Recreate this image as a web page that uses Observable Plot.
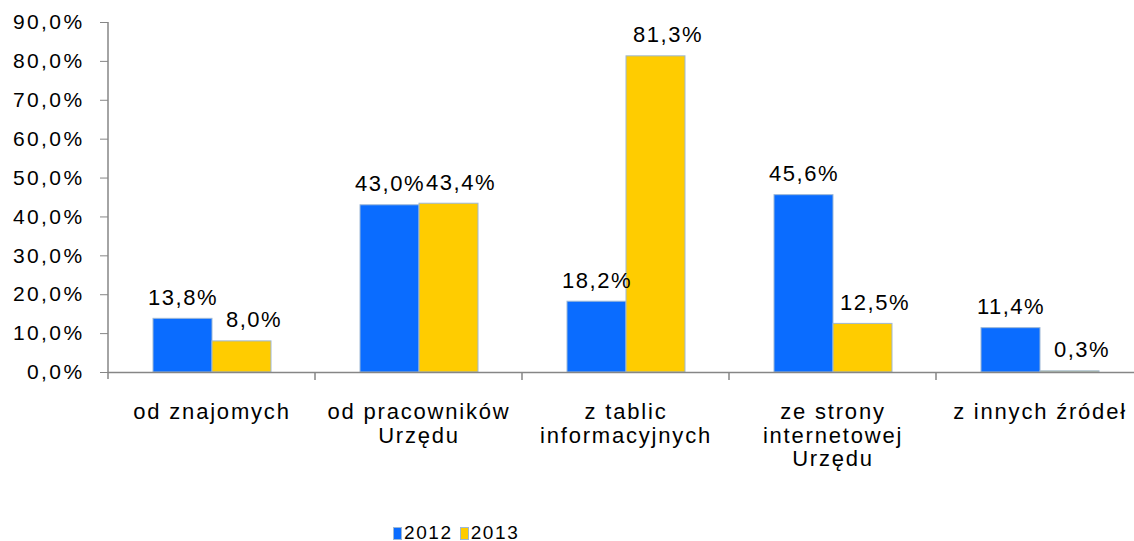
<!DOCTYPE html>
<html>
<head>
<meta charset="utf-8">
<script src="https://cdn.jsdelivr.net/npm/d3@7"></script>
<script src="https://cdn.jsdelivr.net/npm/@observablehq/plot@0.6"></script>
<style>
  body { margin: 0; background: #fff; font-family: "Liberation Sans", Arial, sans-serif; overflow: hidden; }
  #legend { display: flex; align-items: center; height: 22px; line-height: 22px; margin-top: 6px; padding-left: 393px; font-size: 19px; letter-spacing: 1.6px; color: #000; }
  .sw { display: inline-block; width: 9px; height: 13px; margin-right: 2px; box-sizing: border-box; }
  .item { display: flex; align-items: center; margin-right: 7px; }
  #chart svg text { letter-spacing: 1.8px; }
  #chart svg .ytick text { letter-spacing: 2.4px; }
  #chart svg .vlabel text { letter-spacing: 1.5px; }
</style>
</head>
<body>
<div id="chart"></div>
<div id="legend"></div>
<script>
const categories = ["od znajomych", "od pracowników\nUrzędu", "z tablic\ninformacyjnych", "ze strony\ninternetowej\nUrzędu", "z innych źródeł"];
const series = ["2012", "2013"];
const values2012 = [13.8, 43.0, 18.2, 45.6, 11.4];
const values2013 = [8.0, 43.4, 81.3, 12.5, 0.3];
const yTicks = [0, 10, 20, 30, 40, 50, 60, 70, 80, 90];
const colors = ["#0a6cff", "#ffcc00"];

const data = [];
categories.forEach((c, i) => {
  data.push({category: c, year: "2012", value: values2012[i]});
  data.push({category: c, year: "2013", value: values2013[i]});
});
const fmt = v => v.toFixed(1).replace(".", ",") + "%";
const axisColor = "#868686";

function axesLines(index, scales, values, dimensions) {
  const fx = scales.fx, y = scales.y;
  const g = d3.create("svg:g").attr("stroke", axisColor).attr("stroke-width", 1.5);
  const y0 = y(0);
  g.append("line").attr("x1", dimensions.marginLeft).attr("x2", dimensions.marginLeft)
    .attr("y1", y(90)).attr("y2", y0 + 7);
  categories.forEach((c, i) => {
    if (i < categories.length - 1) {
      const xb = fx(c) + fx.bandwidth();
      g.append("line").attr("x1", xb).attr("x2", xb).attr("y1", y0).attr("y2", y0 + 8);
    }
  });
  return g.node();
}

const plot = Plot.plot({
  width: 1134,
  height: 516,
  marginLeft: 108,
  marginRight: -9,
  marginTop: 22,
  marginBottom: 144,
  style: {fontFamily: "Liberation Sans, Arial, sans-serif", fontSize: "22px", color: "#000", background: "#fff", overflow: "visible"},
  fx: {domain: categories, padding: 0, label: null},
  x: {domain: series, paddingInner: 0, paddingOuter: 0.74, axis: null},
  y: {domain: [0, 90], label: null},
  color: {domain: series, range: colors},
  marks: [
    Plot.axisY({ticks: yTicks, tickFormat: fmt, tickSize: 8, tickPadding: 16, fontSize: 21, stroke: axisColor, label: null, className: "ytick"}),
    Plot.axisFx({anchor: "bottom", tickSize: 0, tickPadding: 29, lineHeight: 1.09, label: null, fontSize: 22}),
    Plot.barY(data, {fx: "category", x: "year", y: "value", fill: "year", stroke: "#9db8d6", strokeWidth: 1}),
    Plot.text(data.filter(d => d.year === "2012"), {fx: "category", x: "year", y: "value", text: d => fmt(d.value), dy: -21, fontSize: 22, fill: "#000", className: "vlabel"}),
    Plot.text(data.filter(d => d.year === "2013"), {fx: "category", x: "year", y: "value", text: d => fmt(d.value), dy: -21, dx: 12, fontSize: 22, fill: "#000", className: "vlabel"}),
    Plot.ruleY([0], {stroke: axisColor, strokeWidth: 1.5}),
    Plot.frame({facetAnchor: "left", render: axesLines})
  ]
});
document.getElementById("chart").appendChild(plot);

const legend = document.getElementById("legend");
series.forEach((s, i) => {
  const item = document.createElement("span");
  item.className = "item";
  const sw = document.createElement("span");
  sw.className = "sw";
  sw.style.background = colors[i];
  sw.style.border = "1px solid #9db8d6";
  item.appendChild(sw);
  item.appendChild(document.createTextNode(s));
  legend.appendChild(item);
});
</script>
</body>
</html>
